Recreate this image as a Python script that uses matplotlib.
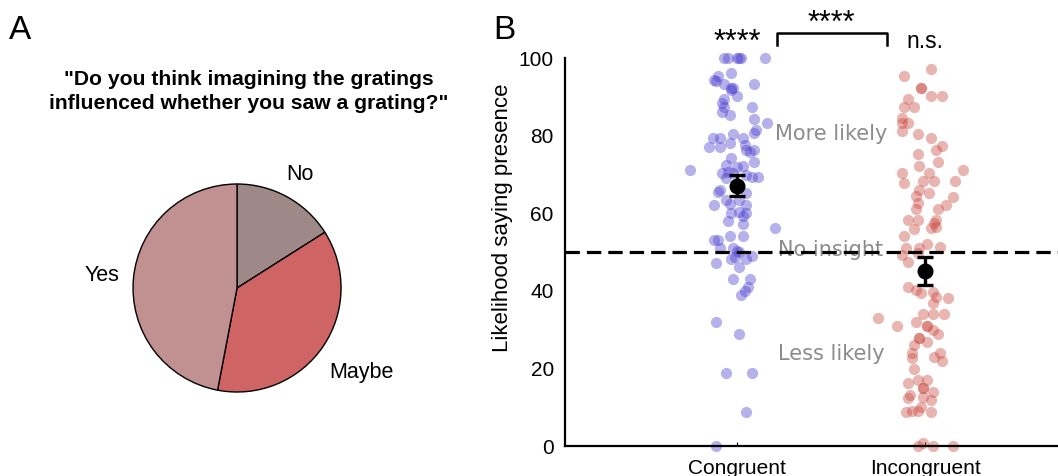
"""Panel A: pie of self-reported influence. Panel B: per-subject likelihood of
saying "presence" for congruent vs incongruent imagery, with group means."""

import matplotlib
matplotlib.use("Agg")
import matplotlib.pyplot as plt
import numpy as np

plt.rcParams["font.family"] = ["Liberation Sans", "DejaVu Sans"]

# ---- panel A data ----
pie_labels = ["No", "Maybe", "Yes"]
pie_shares = [16, 37, 47]
pie_colors = ["#9e8888", "#cf6464", "#c19090"]
pie_question = '"Do you think imagining the gratings\ninfluenced whether you saw a grating?"'

# ---- panel B data (x = group position + jitter, y = likelihood %) ----
cong_x = [0.93, 0.95, 1.00, 1.01, 1.02, 1.15,
          0.97, 0.90, 0.88, 0.89, 0.93, 1.09, 0.97, 0.98, 0.97, 1.00, 0.93, 0.92,
          0.93, 0.92, 0.96, 1.08, 1.09, 1.16, 1.10, 1.09, 0.98, 0.87, 0.91, 0.85,
          0.91, 0.96, 1.03, 1.04, 1.05, 1.07, 1.09, 0.97, 1.09, 0.75, 0.94, 1.00,
          1.03, 0.92, 0.95, 0.98, 1.05, 1.08, 1.11, 0.94,
          0.90, 0.91, 1.05, 0.88, 0.94, 0.96, 1.01, 1.05, 0.97, 1.01, 1.05, 1.03,
          0.95, 1.03, 1.20, 0.96, 1.03, 0.88, 0.90, 0.91, 0.98, 1.01, 1.00, 0.97,
          0.99, 1.05, 1.08, 0.89, 1.01, 0.98, 1.07, 1.06, 1.04, 1.02,
          0.89, 1.01, 0.94, 1.08, 1.05, 0.89]
cong_y = [100, 100, 100, 100, 100, 100,
          96.2, 95.4, 94.3, 94.1, 93.3, 93.3, 92.4, 92.2, 91.8, 90.3, 89.4, 88.4,
          87.4, 86.1, 85.3, 87.4, 84.3, 83.3, 81.4, 80.7, 80.4, 79.4, 79.4, 77.1,
          77.1, 78.1, 79.4, 77.6, 76.3, 75.8, 76.3, 74.2, 73.2, 71.1, 72.4, 71.9,
          72.2, 70.4, 70.6, 70.4, 69.8, 69.3, 69.3, 69.1,
          65.5, 66.0, 65.2, 62.1, 63.4, 62.4, 63.4, 62.1, 60.1, 60.3, 60.1, 59.3,
          58.0, 57.2, 56.2, 54.1, 54.1, 53.1, 53.1, 51.0, 51.0, 50.0, 50.3, 48.2,
          48.7, 48.2, 49.0, 47.2, 46.1, 43.0, 43.0, 41.0, 40.0, 38.9,
          32.0, 28.9, 18.8, 18.8, 8.8, 0]

incong_x = [2.03, 1.89, 1.98, 1.98, 2.03, 2.09, 1.91, 1.89, 1.94, 1.88, 1.88,
            1.91, 1.88, 1.96, 2.03, 2.09, 2.06, 1.96, 2.07, 1.97, 2.20, 1.88, 2.02,
            1.89, 1.99, 2.05, 2.16,
            1.95, 1.97, 2.02, 2.15, 1.96, 1.95, 2.11, 2.07, 1.91, 1.96, 2.06, 2.05,
            2.03, 2.06, 1.94, 1.89, 1.90, 1.97, 2.01, 2.08, 1.88, 1.91, 1.96, 1.91,
            1.95, 1.98, 2.04, 2.06, 2.12, 2.04,
            1.75, 1.85, 1.95, 1.99, 2.04, 2.10, 2.01, 2.01, 2.04, 2.07, 1.97, 1.97,
            2.01, 1.94, 1.93, 1.93, 2.08, 2.05, 2.09, 1.94, 1.91, 1.96, 2.01, 1.99,
            1.99, 1.92, 1.99, 2.04, 2.03, 1.91, 1.90, 1.93, 1.96, 1.98, 2.03, 1.96,
            1.99, 2.04, 2.15]
incong_y = [97.3, 95.4, 92.4, 92.4, 90.3, 90.3, 89.4, 87.4, 87.4, 84.5, 83.3,
            83.3, 81.2, 80.4, 79.4, 77.3, 76.3, 75.3, 73.2, 72.2, 71.1, 70.4, 70.4,
            67.8, 68.3, 68.3, 68.3,
            64.4, 66.0, 65.2, 64.2, 62.6, 61.1, 62.1, 61.1, 58.2, 58.2, 58.2, 57.5,
            56.2, 56.4, 55.9, 54.1, 51.0, 51.0, 52.1, 51.3, 49.2, 47.4, 49.7, 41.0,
            40.2, 39.4, 39.7, 38.4, 38.1, 36.9,
            33.0, 30.9, 32.0, 34.0, 34.0, 34.0, 30.9, 30.9, 29.9, 29.0, 27.8, 27.8,
            26.8, 26.0, 24.0, 22.7, 24.0, 22.9, 21.9, 19.8, 16.2, 17.0, 17.0, 14.9,
            14.9, 13.1, 12.6, 13.9, 11.9, 12.4, 8.8, 9.0, 9.0, 10.0, 8.8, 0,
            0.8, 0, 0]

conditions = ["Congruent", "Incongruent"]
cond_pos = [1, 2]
cond_mean = [67.1, 45.1]
cond_sem = [2.7, 3.6]
no_insight = 50

fig = plt.figure(figsize=(10.58, 4.76), dpi=100)

# ---------------- panel A ----------------
axa = fig.add_axes([0.0766, 0.0672, 0.2949, 0.6555])
wedges, texts = axa.pie(pie_shares, colors=pie_colors, startangle=90,
                        counterclock=False,
                        wedgeprops=dict(edgecolor="black", linewidth=1))
for w, lab, dist in zip(wedges, pie_labels, [1.25, 1.45, 1.3]):
    ang = np.deg2rad((w.theta1 + w.theta2) / 2)
    axa.text(dist * np.cos(ang), dist * np.sin(ang), lab, ha="center",
             va="center", fontsize=15.5)
axa.set_xlim(-1.5, 1.5)
axa.set_ylim(-1.5, 1.5)
fig.text(0.235, 0.808, pie_question, ha="center", va="center", fontsize=15.2,
         fontweight="bold", linespacing=1.35)
fig.text(0.008, 0.935, "A", fontsize=24, va="center")

# ---------------- panel B ----------------
ax = fig.add_axes([0.534, 0.063, 0.466, 0.815])
ax.scatter(cong_x, cong_y, s=65, color="#4a3ccf", alpha=0.4, lw=0,
           clip_on=False, zorder=2)
ax.scatter(incong_x, incong_y, s=65, color="#c9463c", alpha=0.4, lw=0,
           clip_on=False, zorder=2)
ax.axhline(no_insight, color="black", ls=(0, (4.5, 2.2)), lw=2.3, zorder=3)
ax.errorbar(cond_pos, cond_mean, yerr=cond_sem, fmt="o", color="black", ms=10.5,
            capsize=6, elinewidth=2.4, capthick=2.4, zorder=5)

gray = "#8c8c8c"
ax.text(1.5, 80.4, "More likely", color=gray, fontsize=15, ha="center",
        va="center", family="DejaVu Sans", zorder=1)
ax.text(1.5, 50.4, "No insight", color=gray, fontsize=15, ha="center",
        va="center", family="DejaVu Sans", zorder=1)
ax.text(1.5, 23.7, "Less likely", color=gray, fontsize=15, ha="center",
        va="center", family="DejaVu Sans", zorder=1)

ax.set_xlim(0.085, 2.707)
ax.set_ylim(0, 100)
ax.set_xticks(cond_pos)
ax.set_xticklabels(conditions, fontsize=15)
ax.set_yticks(range(0, 101, 20))
ax.tick_params(axis="y", length=0, labelsize=15, pad=8)
ax.tick_params(axis="x", direction="in", length=3, pad=9)
ax.set_ylabel("Likelihood saying presence", fontsize=16)
ax.yaxis.set_label_coords(-0.105, 0.588)
for side in ["top", "right"]:
    ax.spines[side].set_visible(False)
ax.spines["left"].set_linewidth(1.6)
ax.spines["bottom"].set_linewidth(1.6)

# significance marks
ax.text(1, 104.0, "****", ha="center", va="center", fontsize=22, clip_on=False)
ax.text(2, 104.4, "n.s.", ha="center", va="center", fontsize=16.5, clip_on=False)
ax.plot([1.213, 1.213, 1.798, 1.798], [103.4, 106.4, 106.4, 103.4],
        color="black", lw=1.8, clip_on=False)
ax.text(1.5, 108.8, "****", ha="center", va="center", fontsize=22, clip_on=False)
fig.text(0.466, 0.935, "B", fontsize=24, va="center")

fig.savefig("out.png", dpi=100)
